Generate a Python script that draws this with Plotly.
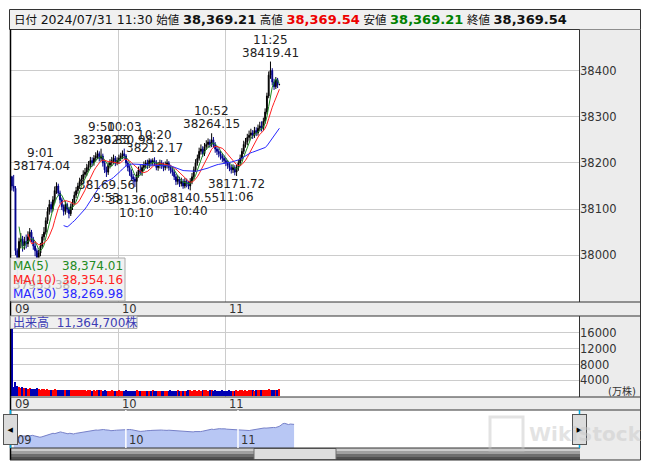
"""Intraday 1-minute candle chart with volume and navigator (plotly)."""

import pandas as pd
import plotly.graph_objects as go

W, H = 653, 470

# one candle per minute, 9:00 (0) .. 11:30 (150)
minutes = list(range(151))

opens = [38170, 38150, 38145, 38010, 37975, 38030, 38035, 38020, 38030, 38025,
         38040, 38050, 38035, 38020, 38010, 37995, 38005, 38020, 38040, 38050,
         38075, 38095, 38110, 38100, 38120, 38140, 38150, 38135, 38120, 38105,
         38095, 38110, 38100, 38090, 38105, 38115, 38130, 38140, 38150, 38160,
         38165, 38175, 38180, 38190, 38195, 38205, 38200, 38210, 38215, 38220,
         38210, 38215, 38200, 38185, 38180, 38195, 38200, 38205, 38210, 38200,
         38205, 38210, 38215, 38220, 38215, 38200, 38190, 38180, 38170, 38165,
         38160, 38175, 38185, 38180, 38190, 38195, 38200, 38195, 38205, 38200,
         38205, 38200, 38190, 38195, 38200, 38195, 38190, 38195, 38200, 38190,
         38185, 38180, 38170, 38160, 38165, 38155, 38160, 38150, 38160, 38155,
         38150, 38160, 38170, 38185, 38200, 38210, 38225, 38230, 38220, 38235,
         38240, 38245, 38240, 38250, 38240, 38230, 38225, 38220, 38215, 38210,
         38205, 38200, 38195, 38190, 38185, 38190, 38180, 38190, 38200, 38210,
         38225, 38240, 38245, 38255, 38260, 38265, 38260, 38270, 38265, 38275,
         38280, 38275, 38290, 38310, 38345, 38390, 38400, 38375, 38365, 38380,
         38369.21]

highs = [38172, 38174.04, 38150, 38015, 38038, 38048, 38042, 38040, 38045, 38052,
         38059, 38055, 38040, 38028, 38015, 38012, 38027, 38046, 38061, 38082,
         38104, 38120, 38116, 38128, 38149, 38158, 38155, 38140, 38125, 38110,
         38117, 38114, 38105, 38112, 38122, 38138, 38148, 38157, 38168, 38174,
         38184, 38189, 38198, 38204, 38213, 38212, 38217, 38223, 38227, 38225,
         38230.83, 38220, 38205, 38192, 38201, 38208, 38213, 38218, 38215, 38212,
         38218, 38222, 38227, 38230.98, 38219, 38204, 38195, 38186, 38176, 38170,
         38181, 38192, 38196, 38197, 38203, 38206, 38207, 38210, 38209, 38210,
         38212.17, 38206, 38202, 38207, 38206, 38201, 38203, 38208, 38204, 38196,
         38191, 38186, 38176, 38173, 38170, 38168, 38165, 38167, 38166, 38161,
         38167, 38178, 38192, 38208, 38218, 38233, 38240, 38236, 38243, 38249,
         38253, 38251, 38264.15, 38256, 38245, 38236, 38231, 38226, 38221, 38216,
         38211, 38206, 38201, 38196, 38197, 38195, 38196, 38207, 38218, 38232,
         38248, 38254, 38263, 38270, 38274, 38271, 38278, 38277, 38283, 38289,
         38290, 38298, 38318, 38352, 38398, 38419.41, 38405, 38382, 38386, 38384,
         38369.54]

lows = [38140, 38138, 38000, 37953.38, 37968, 38015, 38008, 38012, 38015, 38018,
        38030, 38028, 38012, 37998, 37985, 37988, 37998, 38015, 38032, 38045,
        38068, 38088, 38092, 38095, 38112, 38133, 38128, 38112, 38098, 38086,
        38088, 38092, 38080, 38085, 38098, 38110, 38124, 38133, 38144, 38152,
        38158, 38168, 38172, 38183, 38188, 38192, 38194, 38203, 38208, 38203,
        38204, 38192, 38178, 38169.56, 38174, 38188, 38193, 38198, 38193, 38195,
        38198, 38204, 38208, 38208, 38193, 38182, 38172, 38162, 38155, 38148,
        38136.00, 38168, 38174, 38172, 38183, 38188, 38187, 38189, 38192, 38194,
        38193, 38184, 38183, 38188, 38187, 38182, 38184, 38188, 38183, 38177,
        38172, 38163, 38152, 38153, 38148, 38149, 38144, 38145, 38147, 38143,
        38140.55, 38154, 38164, 38180, 38194, 38205, 38218, 38213, 38215, 38228,
        38233, 38233, 38234, 38233, 38222, 38217, 38212, 38207, 38202, 38198,
        38193, 38187, 38182, 38177, 38178, 38173, 38171.72, 38183, 38193, 38204,
        38219, 38233, 38238, 38248, 38252, 38252, 38254, 38258, 38259, 38268,
        38268, 38270, 38285, 38305, 38340, 38382, 38368, 38358, 38360, 38362,
        38369.21]

closes = [38150, 38145, 38010, 37975, 38030, 38035, 38020, 38030, 38025, 38040,
          38050, 38035, 38020, 38010, 37995, 38005, 38020, 38040, 38050, 38075,
          38095, 38110, 38100, 38120, 38140, 38150, 38135, 38120, 38105, 38095,
          38110, 38100, 38090, 38105, 38115, 38130, 38140, 38150, 38160, 38165,
          38175, 38180, 38190, 38195, 38205, 38200, 38210, 38215, 38220, 38210,
          38215, 38200, 38185, 38180, 38195, 38200, 38205, 38210, 38200, 38205,
          38210, 38215, 38220, 38215, 38200, 38190, 38180, 38170, 38165, 38160,
          38175, 38185, 38180, 38190, 38195, 38200, 38195, 38205, 38200, 38205,
          38200, 38190, 38195, 38200, 38195, 38190, 38195, 38200, 38190, 38185,
          38180, 38170, 38160, 38165, 38155, 38160, 38150, 38160, 38155, 38150,
          38160, 38170, 38185, 38200, 38210, 38225, 38230, 38220, 38235, 38240,
          38245, 38240, 38250, 38240, 38230, 38225, 38220, 38215, 38210, 38205,
          38200, 38195, 38190, 38185, 38190, 38180, 38190, 38200, 38210, 38225,
          38240, 38245, 38255, 38260, 38265, 38260, 38270, 38265, 38275, 38280,
          38275, 38290, 38310, 38345, 38390, 38400, 38375, 38365, 38380, 38369.21,
          38369.54]

# volume in 万株
volumes = [21000, 2300, 3600, 2600, 2400, 2200, 2300, 2000, 2100, 1900,
           2000, 1900, 1800, 1900, 2000, 1800, 1700, 1900, 1800, 1700,
           1800, 1700, 1600, 1700, 1800, 1600, 1700, 1600, 1500, 1600,
           1700, 1500, 1600, 1500, 1600, 1700, 1600, 1500, 1600, 1500,
           1600, 1500, 1400, 1500, 1600, 1400, 1500, 1400, 1500, 1600,
           1500, 1400, 1500, 1400, 1300, 1400, 1500, 1400, 1300, 1400,
           1500, 1400, 1300, 1400, 1500, 1400, 1300, 1400, 1300, 1400,
           1500, 1400, 1300, 1400, 1300, 1400, 1400, 1300, 1400, 1500,
           1400, 1300, 1400, 1300, 1400, 1300, 1400, 1300, 1400, 1500,
           1400, 1300, 1400, 1500, 1400, 1300, 1400, 1300, 1400, 1500,
           1500, 1400, 1500, 1600, 1400, 1500, 1400, 1500, 1600, 1500,
           1400, 1500, 1600, 1400, 1500, 1400, 1300, 1400, 1500, 1400,
           1300, 1400, 1500, 1400, 1300, 1400, 1500, 1400, 1500, 1600,
           1400, 1500, 1400, 1500, 1600, 1500, 1400, 1500, 1600, 1700,
           1600, 1500, 1600, 1700, 1800, 1700, 1600, 1500, 1700, 1600,
           1900]

hour_pos = [0, 60, 120]
hour_labels = ["09", "10", "11"]
price_ticks = [38000, 38100, 38200, 38300, 38400]
vol_ticks = [4000, 8000, 12000, 16000]

peak_idx = [1, 50, 63, 80, 112, 145]
peak_times = ["9:01", "9:50", "10:03", "10:20", "10:52", "11:25"]
trough_idx = [53, 70, 100, 126]
trough_times = ["9:53", "10:10", "10:40", "11:06"]
day_low_idx = 3

ma_names = ["MA(5)", "MA(10)", "MA(30)"]
ma_windows = [5, 10, 30]
ma_last = ["38,374.01", "38,354.16", "38,269.98"]
ma_colors = ["#228b22", "#ff2020", "#2828ff"]

header = ("日付 <span style='font-size:12.5px'>2024/07/31 11:30</span> 始値 "
          "<b><span style='font-size:13px'>38,369.21</span></b> 高値 "
          "<b><span style='font-size:13px;color:#ee0000'>38,369.54</span></b> 安値 "
          "<b><span style='font-size:13px;color:#008000'>38,369.21</span></b> 終値 "
          "<b><span style='font-size:13px'>38,369.54</span></b>")
volume_label = "出来高  11,364,700株"

FONT = "DejaVu Sans, Noto Sans CJK JP"
GRID = "rgb(204,204,204)"
PANEL = "rgb(236,236,236)"
EDGE = "#333333"


def px(x):
    return x / W


def py(y):
    return 1 - y / H


close_s = pd.Series(closes)

fig = go.Figure()
fig.add_trace(go.Candlestick(
    x=minutes, open=opens, high=highs, low=lows, close=closes,
    increasing=dict(line=dict(color="#000000", width=1), fillcolor="#000000"),
    decreasing=dict(line=dict(color="#00008c", width=1), fillcolor="#00008c"),
    whiskerwidth=0, xaxis="x", yaxis="y", showlegend=False, hoverinfo="skip"))
for w, col in zip(ma_windows, ma_colors):
    fig.add_trace(go.Scatter(x=minutes, y=close_s.rolling(w).mean(), mode="lines",
                             line=dict(color=col, width=1), xaxis="x", yaxis="y",
                             showlegend=False, hoverinfo="skip"))

bar_colors = ["#ff0000" if c >= o else "#0000b4" for o, c in zip(opens, closes)]
fig.add_trace(go.Bar(x=minutes, y=volumes, width=0.7,
                     marker=dict(color=bar_colors, line=dict(width=0)),
                     xaxis="x2", yaxis="y2", showlegend=False, hoverinfo="skip"))

fig.add_trace(go.Scatter(x=minutes, y=closes, mode="lines", fill="tozeroy",
                         fillcolor="rgb(184,199,244)",
                         line=dict(color="rgb(118,128,200)", width=1),
                         xaxis="x3", yaxis="y3", showlegend=False, hoverinfo="skip"))

shapes = []


def rect(x0, y0, x1, y1, fill, line=None, layer="below", width=1):
    shapes.append(dict(type="rect", xref="paper", yref="paper",
                       x0=px(x0), x1=px(x1), y0=py(y1), y1=py(y0),
                       fillcolor=fill, layer=layer,
                       line=dict(color=line or "rgba(0,0,0,0)", width=width if line else 0)))


def hline(x0, x1, y, color=EDGE, width=1):
    shapes.append(dict(type="line", xref="paper", yref="paper", x0=px(x0), x1=px(x1),
                       y0=py(y), y1=py(y), line=dict(color=color, width=width), layer="above"))


def vline(x, y0, y1, color=EDGE, width=1):
    shapes.append(dict(type="line", xref="paper", yref="paper", x0=px(x), x1=px(x),
                       y0=py(y0), y1=py(y1), line=dict(color=color, width=width), layer="above"))


# header and grey axis panels
rect(9.5, 9.5, 640.5, 29.5, "rgb(240,240,240)", EDGE)
rect(579.5, 29.5, 640.5, 302, PANEL)
rect(10, 302, 640.5, 316, PANEL)
rect(579.5, 316, 640.5, 397, PANEL)
rect(10, 397, 640.5, 410, PANEL)
rect(580, 410, 640.5, 460, PANEL)

# scrollbar
for y0, y1, c in [(448, 451, "rgb(205,205,205)"), (451, 454, "rgb(160,160,160)"),
                  (454, 457, "rgb(110,110,110)"), (457, 460, "rgb(80,80,80)")]:
    rect(10, y0, 580, y1, c, layer="above")
rect(254, 448.5, 336, 459.5, "rgb(222,222,222)", "rgb(110,110,110)", layer="above")

# frame lines
vline(10.5, 29.5, 460, "#000000", 1.5)
vline(640.5, 29.5, 460)
vline(579.5, 29.5, 302)
vline(579.5, 316, 397)
for y in (302, 316, 397, 410, 460):
    hline(10, 640.5, y)
hline(10, 580, 448)
vline(10.5, 410, 448, "rgb(0,170,225)", 1.5)
vline(579.5, 410, 448, "rgb(0,170,225)", 1.5)

# navigator hour lines
for h in hour_pos[1:]:
    shapes.append(dict(type="line", xref="x3", yref="paper", x0=h, x1=h,
                       y0=py(448), y1=py(410), line=dict(color="white", width=1.5),
                       layer="above"))

# watermark logo
rect(490, 417, 523, 450, "rgba(0,0,0,0)", "rgba(200,200,200,0.5)", layer="above", width=3)

# legend backgrounds
rect(10.5, 258, 125, 301, "rgba(240,240,240,0.95)", "rgb(170,170,170)", layer="above")
rect(10.5, 316, 137, 328.5, "rgb(240,240,240)", "rgb(170,170,170)", layer="above")

ann = []
lab = dict(family="DejaVu Sans", size=12, color="#222222")

ann.append(dict(text=header, xref="paper", yref="paper", x=px(12), y=py(19.5),
                xanchor="left", yanchor="middle", showarrow=False,
                font=dict(family=FONT, size=11.5, color="#111111")))

for i, t in zip(peak_idx, peak_times):
    val = f"{highs[i]:.2f}"
    if i < 16:
        ann.append(dict(text=val, x=-0.5, y=highs[i], xref="x", yref="y", xanchor="left",
                        yanchor="bottom", showarrow=False, font=lab))
        ann.append(dict(text=t, x=-0.5, y=highs[i], xref="x", yref="y", xanchor="left",
                        yanchor="bottom", yshift=13, xshift=14, showarrow=False, font=lab))
    else:
        ann.append(dict(text=val, x=i, y=highs[i], xref="x", yref="y", yanchor="bottom",
                        showarrow=False, font=lab))
        ann.append(dict(text=t, x=i, y=highs[i], xref="x", yref="y", yanchor="bottom",
                        yshift=13, showarrow=False, font=lab))

for i, t in zip(trough_idx, trough_times):
    ann.append(dict(text=f"{lows[i]:.2f}", x=i, y=lows[i], xref="x", yref="y",
                    yanchor="top", yshift=1, showarrow=False, font=lab))
    ann.append(dict(text=t, x=i, y=lows[i], xref="x", yref="y", yanchor="top",
                    yshift=-12, showarrow=False, font=lab))

# day low label sits behind the MA legend
ann.append(dict(text=f"{lows[day_low_idx]:.2f}", x=-0.5, y=lows[day_low_idx], xref="x",
                yref="y", xanchor="left", yanchor="top", yshift=1, showarrow=False,
                font=dict(family="DejaVu Sans", size=12, color="#b4b4b4")))

for k, (name, last, col) in enumerate(zip(ma_names, ma_last, ma_colors)):
    yy = py(266 + 14 * k)
    ann.append(dict(text=name, xref="paper", yref="paper", x=px(11), y=yy,
                    xanchor="left", yanchor="middle", showarrow=False,
                    font=dict(family="DejaVu Sans", size=12, color=col)))
    ann.append(dict(text=last, xref="paper", yref="paper", x=px(125), y=yy,
                    xanchor="right", yanchor="middle", showarrow=False,
                    font=dict(family="DejaVu Sans", size=12, color=col)))

ann.append(dict(text=volume_label, xref="paper", yref="paper", x=px(11), y=py(322.5),
                xanchor="left", yanchor="middle", showarrow=False,
                font=dict(family=FONT, size=12, color="#3c3cb4")))
ann.append(dict(text="(万株)", xref="paper", yref="paper", x=px(638), y=py(391),
                xanchor="right", yanchor="middle", showarrow=False,
                font=dict(family=FONT, size=10, color="#333333")))

axis_font = dict(family="DejaVu Sans", size=11.5, color="#333333")
for h, t in zip(hour_pos, hour_labels):
    for xr, yv in (("x", 309), ("x2", 403.5), ("x3", 440)):
        ann.append(dict(text=t, x=h, xref=xr, y=py(yv), yref="paper", xanchor="left",
                        yanchor="middle", xshift=1, showarrow=False, font=axis_font))

# navigator handles
for xc, arrow in ((10.5, "◀"), (579.5, "▶")):
    ann.append(dict(text=arrow, xref="paper", yref="paper", x=px(xc), y=py(429.5),
                    xanchor="center", yanchor="middle", showarrow=False, width=11, height=27,
                    bgcolor="rgb(220,220,220)", bordercolor="#555555", borderwidth=1,
                    font=dict(family="DejaVu Sans", size=7, color="#000000")))

ann.append(dict(text="<b>WikiStock</b>", xref="paper", yref="paper", x=px(527), y=py(434),
                xanchor="left", yanchor="middle", showarrow=False,
                font=dict(family="DejaVu Sans", size=20, color="rgba(200,200,200,0.5)")))

fig.update_layout(
    width=W, height=H, margin=dict(l=0, r=0, t=0, b=0),
    paper_bgcolor="white", plot_bgcolor="white", showlegend=False,
    shapes=shapes, annotations=ann, bargap=0,
    xaxis=dict(domain=[px(11), px(579)], range=[-0.5, 318], anchor="y",
               tickvals=hour_pos[1:], showticklabels=False, showgrid=True,
               gridcolor=GRID, zeroline=False, rangeslider=dict(visible=False)),
    yaxis=dict(domain=[py(302), py(30)], range=[37898.9, 38487.7], anchor="x",
               side="right", tickvals=price_ticks, tickformat="d", showgrid=True,
               gridcolor=GRID, zeroline=False, ticks="", tickfont=axis_font),
    xaxis2=dict(domain=[px(11), px(579)], range=[-0.5, 318], anchor="y2",
                tickvals=hour_pos[1:], showticklabels=False, showgrid=True,
                gridcolor=GRID, zeroline=False),
    yaxis2=dict(domain=[py(397), py(316)], range=[-150, 20150], anchor="x2",
                side="right", tickvals=vol_ticks, tickformat="d", showgrid=True,
                gridcolor=GRID, zeroline=False, ticks="", tickfont=axis_font),
    xaxis3=dict(domain=[px(10), px(580)], range=[-2, 303], anchor="y3",
                visible=False),
    yaxis3=dict(domain=[py(448), py(410)], range=[37680, 38790], anchor="x3",
                visible=False),
)

# the page's default body margin would shift the 653x470 figure by 8px
fig.write_html("out.html", config={"displayModeBar": False},
               post_script="document.body.style.margin = '0';")
